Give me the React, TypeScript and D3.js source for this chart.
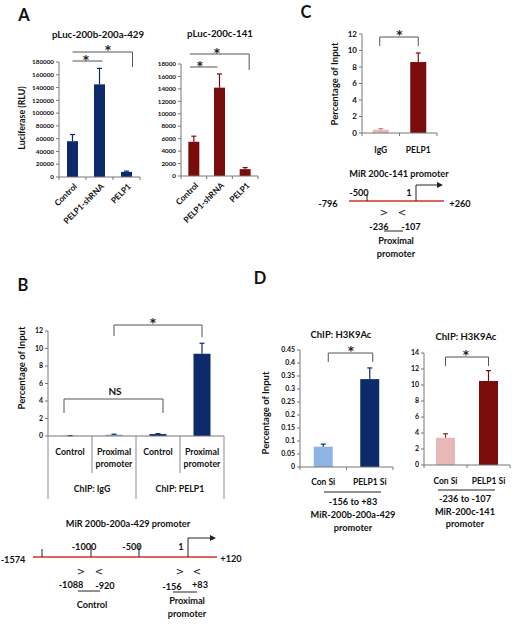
import React from "react";
import * as d3 from "d3";

const FONT = "Lato, 'Open Sans', sans-serif";
const NAVY = "#0d2a6b";
const DARKRED = "#7a0c0c";
const LIGHTBLUE = "#8eb4e3";
const PINK = "#e6b8b7";
const PROMOTER_RED = "#e0645e";
const BRACKET = "#555";

// ---------- data ----------
const aCategories = ["Control", "PELP1-shRNA", "PELP1"];
const aLeftTitle = "pLuc-200b-200a-429";
const aLeftValues = [56000, 145000, 8000];
const aLeftErrors = [10500, 25000, 1200];
const aLeftTicks = [0, 20000, 40000, 60000, 80000, 100000, 120000, 140000, 160000, 180000];
const aRightTitle = "pLuc-200c-141";
const aRightValues = [5500, 14200, 1100];
const aRightErrors = [900, 2200, 250];
const aRightTicks = [0, 2000, 4000, 6000, 8000, 10000, 12000, 14000, 16000, 18000];

const bCategories = [["Control"], ["Proximal", "promoter"], ["Control"], ["Proximal", "promoter"]];
const bGroups = ["ChIP: IgG", "ChIP: PELP1"];
const bValues = [0.03, 0.15, 0.22, 9.4];
const bErrors = [0.01, 0.05, 0.05, 1.2];
const bTicks = [0, 2, 4, 6, 8, 10, 12];

const cCategories = ["IgG", "PELP1"];
const cValues = [0.4, 8.6];
const cErrors = [0.12, 1.1];
const cTicks = [0, 2, 4, 6, 8, 10, 12];

const dCategories = ["Con Si", "PELP1 Si"];
const dTitle = "ChIP: H3K9Ac";
const dLeftValues = [0.078, 0.338];
const dLeftErrors = [0.01, 0.043];
const dLeftTicks = [0, 0.05, 0.1, 0.15, 0.2, 0.25, 0.3, 0.35, 0.4, 0.45];
const dRightValues = [3.4, 10.5];
const dRightErrors = [0.5, 1.3];
const dRightTicks = [0, 2, 4, 6, 8, 10, 12, 14];

// promoter schematics (positions relative to TSS)
const bPromoterDomain = [-1574, -1500, -1088, -1000, -920, -500, -156, 1, 83, 120];
const bPromoterTicks = [-1500, -1000, -500];
const bPromoterTickLabels = ["", "-1000", "-500"];
const cPromoterDomain = [-796, -500, -236, -107, 1, 260];
const cPromoterTicks = [-500];
const cPromoterTickLabels = ["-500"];

type BarProps = {
  cats: string[];
  values: number[];
  errors: number[];
  colors: string[];
  errColors: string[];
  ticks: number[];
  x0: number;
  x1: number;
  y0: number;
  y1: number;
  barW: number;
  fontSize: number;
  bandTicks?: boolean;
};

function Bars(p: BarProps) {
  const yMax = p.ticks[p.ticks.length - 1];
  const y = d3.scaleLinear().domain([0, yMax]).range([p.y0, p.y1]);
  const x = d3.scaleBand<string>().domain(p.cats.map((c, i) => String(i))).range([p.x0, p.x1]);
  const boundaries = d3.range(p.cats.length + 1).map((i) => p.x0 + i * x.bandwidth());
  return (
    <g>
      {p.values.map((v, i) => {
        const cx = (x(String(i)) as number) + x.bandwidth() / 2;
        const top = y(v + p.errors[i]);
        return (
          <g key={i}>
            <rect x={cx - p.barW / 2} y={y(v)} width={p.barW} height={p.y0 - y(v)} fill={p.colors[i]} />
            <line x1={cx} x2={cx} y1={y(v)} y2={top} stroke={p.errColors[i]} strokeWidth={1.2} />
            <line x1={cx - 2.5} x2={cx + 2.5} y1={top} y2={top} stroke={p.errColors[i]} strokeWidth={1.2} />
          </g>
        );
      })}
      <line x1={p.x0} x2={p.x0} y1={p.y0} y2={p.y1} stroke="#777" strokeWidth={1} />
      <line x1={p.x0} x2={p.x1} y1={p.y0} y2={p.y0} stroke="#777" strokeWidth={1} />
      {p.ticks.map((t) => (
        <g key={t}>
          <line x1={p.x0 - 3} x2={p.x0} y1={y(t)} y2={y(t)} stroke="#777" />
          <text x={p.x0 - 5} y={y(t)} dy="0.35em" textAnchor="end" fontSize={p.fontSize} fontWeight={700} fill="#111">
            {String(t)}
          </text>
        </g>
      ))}
      {p.bandTicks !== false &&
        boundaries.map((bx, i) => <line key={i} x1={bx} x2={bx} y1={p.y0} y2={p.y0 + 3} stroke="#777" />)}
    </g>
  );
}

function bandCenters(n: number, x0: number, x1: number) {
  const x = d3.scaleBand<number>().domain(d3.range(n)).range([x0, x1]);
  return d3.range(n).map((i) => (x(i) as number) + x.bandwidth() / 2);
}

function Star({ x, y, size = 12 }: { x: number; y: number; size?: number }) {
  return (
    <text x={x} y={y} dy="0.55em" textAnchor="middle" fontSize={size} fontWeight={700} fill="#222"
      fontFamily="'DejaVu Sans', sans-serif">
      *
    </text>
  );
}

function Primer({ x, y, dir }: { x: number; y: number; dir: string }) {
  return (
    <text x={x} y={y} dy="0.35em" textAnchor="middle" fontSize={10} fill="#222" fontFamily="'DejaVu Sans', sans-serif">
      {dir}
    </text>
  );
}

function T(props: any) {
  const { children, ...rest } = props;
  return (
    <text textAnchor="middle" dy="0.35em" fontWeight={700} fill="#111" {...rest}>
      {children}
    </text>
  );
}

export default function App() {
  // ---- Panel A ----
  const aL = { x0: 59, x1: 140, y0: 177, y1: 62 };
  const aR = { x0: 181, x1: 258, y0: 176, y1: 64 };
  const aLc = bandCenters(3, aL.x0, aL.x1);
  const aRc = bandCenters(3, aR.x0, aR.x1);

  // ---- Panel B ----
  const bA = { x0: 48, x1: 224, y0: 436, y1: 331 };
  const bC = bandCenters(4, bA.x0, bA.x1);
  const bBand = (bA.x1 - bA.x0) / 4;
  const bScaleY = d3.scaleLinear().domain([0, 12]).range([bA.y0, bA.y1]);

  // ---- Panel C ----
  const cA = { x0: 362, x1: 437, y0: 133, y1: 34 };
  const cC = bandCenters(2, cA.x0, cA.x1);

  // ---- Panel D ----
  const dL = { x0: 300, x1: 393, y0: 467, y1: 350 };
  const dR = { x0: 424, x1: 510, y0: 465, y1: 353 };
  const dLc = bandCenters(2, dL.x0, dL.x1);
  const dRc = bandCenters(2, dR.x0, dR.x1);

  // promoter scales
  const bp = d3.scaleLinear().domain(bPromoterDomain).range([33, 42, 81, 91, 99, 139, 180, 188, 197, 217]);
  const cp = d3.scaleLinear().domain(cPromoterDomain).range([349, 367, 384, 402, 416, 444]);
  const bLineY = 557;
  const cLineY = 201;
  const fs = 9.2;

  return (
    <svg
      width={512}
      height={624}
      style={{ position: "absolute", left: 0, top: 0, background: "#fff" }}
      fontFamily={FONT}
    >
      <rect width={512} height={624} fill="#fff" />
      {/* Panel letters */}
      <T x={24} y={15} fontSize={16.5}>A</T>
      <T x={306} y={12} fontSize={16.5}>C</T>
      <T x={23} y={285} fontSize={16.5}>B</T>
      <T x={260} y={278} fontSize={16.5}>D</T>

      {/* ===== Panel A left ===== */}
      <T x={98} y={35} fontSize={9.7}>{aLeftTitle}</T>
      <T x={22} y={118} fontSize={8.8} transform="rotate(-90 22 118)">Luciferase (RLU)</T>
      <Bars
        cats={aCategories}
        values={aLeftValues}
        errors={aLeftErrors}
        colors={[NAVY, NAVY, NAVY]}
        errColors={[NAVY, NAVY, NAVY]}
        ticks={aLeftTicks}
        {...aL}
        barW={11}
        fontSize={6.3}
      />
      {aCategories.map((c, i) => (
        <T key={c} x={0} y={0} dy="0" textAnchor="end" fontSize={8.3}
          transform={`translate(${aLc[i] + 5},${aL.y0 + 10}) rotate(-45)`}>{c}</T>
      ))}
      <path d={`M${aLc[0]},61 H${aLc[1] + 3}`} stroke={BRACKET} fill="none" />
      <Star x={86} y={57} />
      <path d={`M${aLc[0]},52 H${aLc[2] + 6} V67`} stroke={BRACKET} fill="none" />
      <Star x={108} y={47} />

      {/* ===== Panel A right ===== */}
      <T x={220} y={34} fontSize={9.7}>{aRightTitle}</T>
      <Bars
        cats={aCategories}
        values={aRightValues}
        errors={aRightErrors}
        colors={[DARKRED, DARKRED, DARKRED]}
        errColors={[DARKRED, DARKRED, DARKRED]}
        ticks={aRightTicks}
        {...aR}
        barW={11}
        fontSize={6.3}
      />
      {aCategories.map((c, i) => (
        <T key={c} x={0} y={0} dy="0" textAnchor="end" fontSize={8.3}
          transform={`translate(${aRc[i] + 5},${aR.y0 + 10}) rotate(-45)`}>{c}</T>
      ))}
      <path d={`M${aRc[0] - 4},67 H${aRc[1] - 2}`} stroke={BRACKET} fill="none" />
      <Star x={200} y={63} />
      <path d={`M${aRc[0] - 4},54 H${aRc[2] + 4} V70`} stroke={BRACKET} fill="none" />
      <Star x={217} y={50} />

      {/* ===== Panel C ===== */}
      <T x={335} y={84} fontSize={9.5} transform="rotate(-90 335 84)">Percentage of Input</T>
      <Bars
        cats={cCategories}
        values={cValues}
        errors={cErrors}
        colors={[PINK, DARKRED]}
        errColors={["#c08080", DARKRED]}
        ticks={cTicks}
        {...cA}
        barW={16}
        fontSize={8}
      />
      {cCategories.map((c, i) => (
        <T key={c} x={cC[i]} y={150} fontSize={8.5}>{c}</T>
      ))}
      <path d={`M${cC[0] - 1},46 V37 H${cC[1]} V46`} stroke={BRACKET} fill="none" />
      <Star x={(cC[0] + cC[1]) / 2} y={32} />

      {/* C promoter */}
      <T x={399} y={174} fontSize={fs}>MiR 200c-141 promoter</T>
      <line x1={cp(-796)} x2={cp(260)} y1={cLineY} y2={cLineY} stroke={PROMOTER_RED} strokeWidth={2} />
      <T x={328} y={204} fontSize={fs}>-796</T>
      <T x={460} y={204} fontSize={fs}>+260</T>
      {cPromoterTicks.map((t, i) => (
        <g key={t}>
          <line x1={cp(t)} x2={cp(t)} y1={cLineY} y2={cLineY - 7} stroke="#222" />
          <T x={cp(t) - 8} y={193} fontSize={fs}>{cPromoterTickLabels[i]}</T>
        </g>
      ))}
      <T x={cp(1) - 7} y={193} fontSize={fs}>1</T>
      <path d={`M${cp(1)},${cLineY} V185 H437`} stroke="#222" fill="none" />
      <path d="M437,182 L443,185 L437,188 Z" fill="#222" />
      <Primer x={cp(-236)} y={212} dir=">" />
      <Primer x={cp(-107)} y={212} dir="<" />
      <T x={379} y={227} fontSize={fs}>-236</T>
      <T x={411} y={227} fontSize={fs}>-107</T>
      <line x1={384} x2={403} y1={231} y2={231} stroke="#222" />
      <T x={396} y={241} fontSize={fs}>Proximal</T>
      <T x={396} y={254} fontSize={fs}>promoter</T>

      {/* ===== Panel B ===== */}
      <T x={22} y={368} fontSize={9.5} transform="rotate(-90 22 368)">Percentage of Input</T>
      <Bars
        cats={bCategories.map((c) => c.join(" "))}
        values={bValues}
        errors={bErrors}
        colors={[LIGHTBLUE, LIGHTBLUE, NAVY, NAVY]}
        errColors={[NAVY, NAVY, NAVY, NAVY]}
        ticks={bTicks}
        {...bA}
        barW={17}
        fontSize={7}
        bandTicks={false}
      />
      {d3.range(5).map((i) => (
        <line key={i} x1={bA.x0 + i * bBand} x2={bA.x0 + i * bBand} y1={bA.y0}
          y2={i % 2 === 0 ? 499 : 473} stroke="#888" />
      ))}
      {bCategories.map((lines, i) =>
        lines.map((l, j) => (
          <T key={`${i}-${j}`} x={bC[i]} y={452 + j * 11.5} fontSize={8.8}>{l}</T>
        ))
      )}
      {bGroups.map((g, i) => (
        <T key={g} x={bA.x0 + bBand * (2 * i + 1)} y={489} fontSize={8.8}>{g}</T>
      ))}
      <path d={`M64,413 V399 H163 V413`} stroke={BRACKET} fill="none" />
      <T x={115} y={391} fontSize={10}>NS</T>
      <path d={`M${bC[1]},336 V325 H${bC[3]} V${bScaleY(bValues[3] + bErrors[3]) - 6}`} stroke={BRACKET} fill="none" />
      <Star x={153} y={320} />

      {/* B promoter */}
      <T x={128} y={524} fontSize={fs}>MiR 200b-200a-429 promoter</T>
      <line x1={bp(-1574)} x2={bp(120)} y1={bLineY} y2={bLineY} stroke={PROMOTER_RED} strokeWidth={2} />
      <T x={13} y={560} fontSize={fs}>-1574</T>
      <T x={231} y={559} fontSize={fs}>+120</T>
      {bPromoterTicks.map((t, i) => (
        <g key={t}>
          <line x1={bp(t)} x2={bp(t)} y1={bLineY} y2={bLineY - (i === 0 ? 8 : 12)} stroke="#222" />
          <T x={bp(t) - 7} y={547} fontSize={fs}>{bPromoterTickLabels[i]}</T>
        </g>
      ))}
      <T x={181} y={547} fontSize={fs}>1</T>
      <path d={`M${bp(1)},${bLineY} V538 H210`} stroke="#222" fill="none" />
      <path d="M210,535 L216,538 L210,541 Z" fill="#222" />
      <Primer x={bp(-1088)} y={571} dir=">" />
      <Primer x={bp(-920)} y={571} dir="<" />
      <Primer x={bp(-156)} y={571} dir=">" />
      <Primer x={bp(83)} y={571} dir="<" />
      <T x={71} y={585} fontSize={fs}>-1088</T>
      <T x={105} y={586} fontSize={fs}>-920</T>
      <line x1={78} x2={100} y1={591} y2={591} stroke="#222" />
      <T x={92} y={605} fontSize={fs}>Control</T>
      <T x={172} y={587} fontSize={fs}>-156</T>
      <T x={200} y={585} fontSize={fs}>+83</T>
      <line x1={173} x2={197} y1={592} y2={592} stroke="#222" />
      <T x={187} y={601} fontSize={fs}>Proximal</T>
      <T x={187} y={614} fontSize={fs}>promoter</T>

      {/* ===== Panel D ===== */}
      <T x={341} y={335} fontSize={9.5}>{dTitle}</T>
      <T x={466} y={337} fontSize={9.5}>{dTitle}</T>
      <T x={266} y={413} fontSize={9.5} transform="rotate(-90 266 413)">Percentage of Input</T>
      <Bars
        cats={dCategories}
        values={dLeftValues}
        errors={dLeftErrors}
        colors={[LIGHTBLUE, NAVY]}
        errColors={[NAVY, NAVY]}
        ticks={dLeftTicks}
        {...dL}
        barW={19}
        fontSize={7}
      />
      <Bars
        cats={dCategories}
        values={dRightValues}
        errors={dRightErrors}
        colors={[PINK, DARKRED]}
        errColors={["#7a3030", DARKRED]}
        ticks={dRightTicks}
        {...dR}
        barW={19}
        fontSize={7}
      />
      {dCategories.map((c, i) => (
        <g key={c}>
          <T x={dLc[i]} y={482} fontSize={8.5}>{c}</T>
          <T x={dRc[i]} y={481} fontSize={8.5}>{c}</T>
        </g>
      ))}
      <path d={`M${dLc[0] + 5},362 V353 H${dLc[1] + 3} V362`} stroke={BRACKET} fill="none" />
      <Star x={351} y={348} />
      <path d={`M${dRc[0]},366 V357 H${dRc[1]} V366`} stroke={BRACKET} fill="none" />
      <Star x={466} y={352} />
      <line x1={324} x2={381} y1={492} y2={492} stroke="#222" />
      <T x={353} y={502} fontSize={fs}>-156  to +83</T>
      <T x={353} y={515} fontSize={fs}>MiR-200b-200a-429</T>
      <T x={353} y={528} fontSize={fs}>promoter</T>
      <line x1={438} x2={495} y1={490} y2={490} stroke="#222" />
      <T x={465} y={499} fontSize={fs}>-236 to -107</T>
      <T x={465} y={512} fontSize={fs}>MiR-200c-141</T>
      <T x={465} y={524} fontSize={fs}>promoter</T>
    </svg>
  );
}
